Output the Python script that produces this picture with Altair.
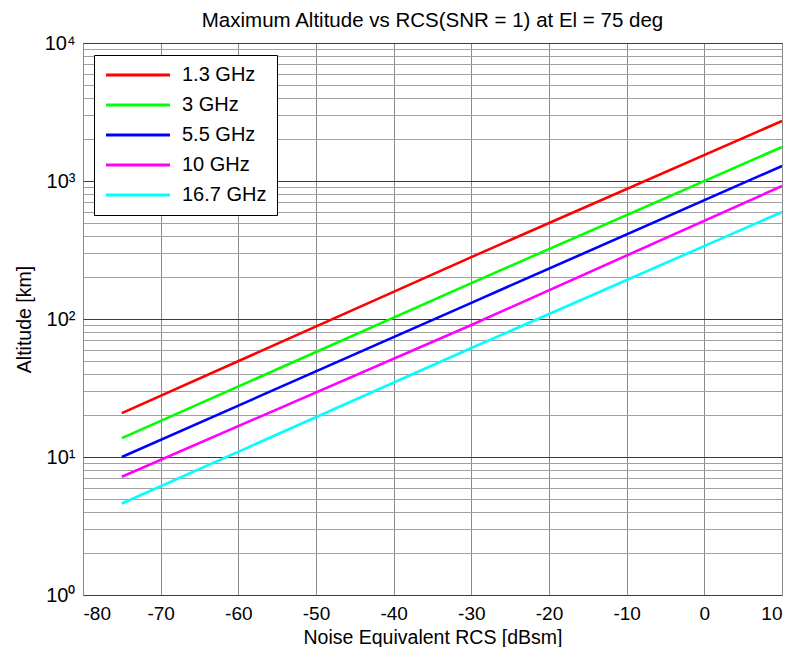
import altair as alt
import pandas as pd

# Data
rcs_dbsm = [-75, -30, 10]
series_names = ["1.3 GHz", "3 GHz", "5.5 GHz", "10 GHz", "16.7 GHz"]
alt_13 = [20.8, 281, 2720]
alt_3 = [13.7, 182, 1763]
alt_55 = [10.0, 131, 1284]
alt_10 = [7.2, 90.5, 920]
alt_167 = [4.6, 61.6, 596]
colors = ["#ff0000", "#00ff00", "#0000ff", "#ff00ff", "#00ffff"]

x_ticks = [-80, -70, -60, -50, -40, -30, -20, -10, 0, 10]
y_ticks = [m * 10 ** e for e in range(0, 4) for m in range(1, 10)] + [10000]

rows = []
for name, vals in zip(series_names, [alt_13, alt_3, alt_55, alt_10, alt_167]):
    for x, y in zip(rcs_dbsm, vals):
        rows.append({"rcs": x, "alt": y, "band": name})
df = pd.DataFrame(rows)

font = "Liberation Sans"

is_decade = "abs(log(datum.value)/LN10 - round(log(datum.value)/LN10)) < 1e-6"

chart = alt.Chart(df).mark_line(strokeWidth=2.6, clip=True).encode(
    x=alt.X("rcs:Q",
            scale=alt.Scale(domain=[-80, 10], nice=False, zero=False),
            axis=alt.Axis(title="Noise Equivalent RCS [dBsm]", values=x_ticks,
                          grid=True, gridColor="#8a8a8a", gridWidth=1,
                          ticks=False, domain=False,
                          labelExpr="'' + datum.value",
                          labelFont=font, labelFontSize=19, labelColor="#000",
                          labelPadding=9, titleFont=font, titleFontSize=19.5,
                          titleFontWeight="normal", titleColor="#000",
                          titlePadding=5)),
    y=alt.Y("alt:Q",
            scale=alt.Scale(type="log", domain=[1, 10000], nice=False),
            axis=alt.Axis(title="Altitude [km]", values=y_ticks,
                          grid=True,
                          gridColor={"condition": {"test": is_decade, "value": "#3a3a3a"},
                                     "value": "#a0a0a0"},
                          gridWidth=1,
                          ticks=False, domain=False,
                          labelExpr=is_decade +
                          " ? '10' + ['⁰','¹','²','³','⁴'][round(log(datum.value)/LN10)] : ''",
                          labelFont=font, labelFontSize=20, labelColor="#000",
                          labelPadding=8, labelOverlap=False, labelBound=False,
                          titleFont=font, titleFontSize=19.5,
                          titleFontWeight="normal", titleColor="#000",
                          titlePadding=10)),
    color=alt.Color("band:N",
                    scale=alt.Scale(domain=series_names, range=colors),
                    sort=series_names,
                    legend=alt.Legend(title=None, orient="none", legendX=11, legendY=12,
                                      symbolType="M-1,0L7,0", symbolSize=256,
                                      symbolStrokeWidth=3, labelOffset=58,
                                      labelFont=font, labelFontSize=20, labelColor="#000",
                                      rowPadding=10, padding=10,
                                      strokeColor="#000", fillColor="#fff")),
).properties(
    width=699, height=552,
    title=alt.TitleParams("Maximum Altitude vs RCS(SNR = 1) at El = 75 deg",
                          font=font, fontSize=20.5, fontWeight="normal", color="#000",
                          offset=2, anchor="middle", frame="group"),
    autosize=alt.AutoSizeParams(type="none"),
    padding={"left": 75, "top": 35, "right": 8, "bottom": 52},
).configure_view(stroke="#000", strokeWidth=1.5).configure(background="#fff")

chart.save("out.html", embed_options={"renderer": "svg", "actions": False})
